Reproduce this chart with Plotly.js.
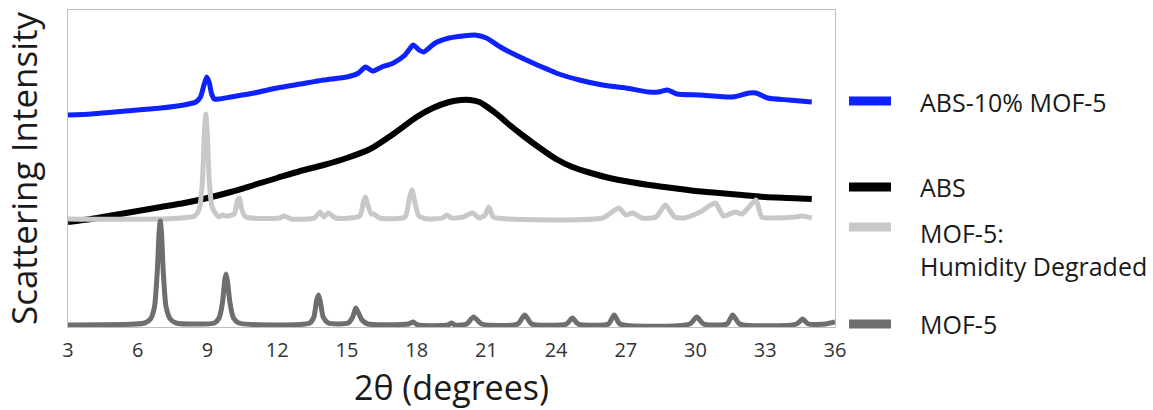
<!DOCTYPE html>
<html>
<head>
<meta charset="utf-8">
<script src="https://cdn.plot.ly/plotly-3.0.1.min.js"></script>
<style>html,body{margin:0;padding:0;background:#fff;}#chart{width:1153px;height:410px;}</style>
</head>
<body>
<div id="chart"></div>
<script>
// ---- Data (2θ in degrees, intensity in arbitrary offset units) ----
const seriesNames = ["ABS-10% MOF-5", "ABS", "MOF-5:<br>Humidity Degraded", "MOF-5"];

const absMofX = [3, 4, 5, 6, 7, 8, 8.5, 8.7, 8.85, 8.97, 9.07, 9.18, 9.3, 9.5, 10, 11, 12, 13, 14, 15, 15.5, 15.8, 16.1, 16.5, 17, 17.5, 17.85, 18.1, 18.3, 18.8, 19.4, 20, 20.5, 21, 21.6, 22, 23, 23.7, 24, 25, 26, 27, 28, 28.4, 28.8, 29.2, 30.2, 31.6, 32.3, 32.6, 33.1, 34, 35];
const absMofY = [212, 213, 215, 217, 219, 222, 225, 230, 242, 250, 245, 233, 228, 228, 230, 234, 239, 243, 247, 250, 254, 260, 256, 260, 264, 272, 282, 277, 275, 284, 289, 291, 292, 289, 280, 275, 264, 257, 254, 247, 242, 239, 235, 235, 237, 233, 232, 230, 234, 234, 229, 227, 225];

const absX = [3, 4, 5, 6, 7, 8, 9, 10, 11, 12, 13, 14, 15, 16, 17, 18, 18.7, 19.4, 19.9, 20.3, 20.7, 21.1, 21.5, 22, 22.6, 23.3, 24, 24.7, 25.5, 26.3, 27.2, 28, 29, 30, 31, 32, 33, 34, 35];
const absY = [105, 108, 112, 116, 120, 124, 129, 135, 142, 149, 156, 162, 169, 178, 193, 210, 219, 225, 227, 227, 225, 219, 212, 202, 191, 179, 168, 160, 154, 149, 145, 142, 139, 136, 134, 132, 130, 129, 128];

const degradedX = [3, 8.45, 8.65, 8.78, 8.87, 8.93, 8.99, 9.08, 9.2, 9.4, 9.5, 9.65, 9.8, 10.15, 10.3, 10.38, 10.48, 10.65, 12.1, 12.3, 12.6, 13.6, 13.85, 14.0, 14.2, 14.5, 15.55, 15.72, 15.8, 15.9, 16.05, 16.15, 16.4, 17.5, 17.68, 17.8, 17.92, 18.1, 18.5, 19.1, 19.3, 19.5, 20.0, 20.4, 20.7, 20.95, 21.1, 21.3, 22, 26, 26.7, 27.0, 27.3, 27.7, 28.3, 28.7, 29.1, 29.5, 30.2, 30.85, 31.2, 31.7, 32.0, 32.3, 32.6, 32.85, 33.3, 34.3, 34.6, 35];
const degradedY = [108, 111, 118, 145, 195, 213, 195, 145, 120, 112, 110, 112, 111, 113, 127, 129, 117, 110, 109, 111, 108, 109, 115, 110, 114, 109, 111, 126, 130, 122, 113, 113, 109, 110, 128, 137, 125, 111, 108, 109, 112, 109, 110, 114, 109, 112, 120, 110, 108, 109, 119, 112, 114, 109, 110, 122, 110, 109, 115, 124, 111, 115, 113, 120, 127, 110, 109, 110, 111, 109];

const mofX = [3, 6.3, 6.55, 6.72, 6.84, 6.92, 6.97, 7.02, 7.1, 7.22, 7.4, 7.65, 9.3, 9.5, 9.65, 9.75, 9.8, 9.86, 9.97, 10.12, 10.35, 13.4, 13.58, 13.7, 13.78, 13.86, 13.98, 14.2, 15.05, 15.25, 15.38, 15.5, 15.65, 15.9, 17.65, 17.85, 18.05, 19.35, 19.5, 19.65, 20.15, 20.45, 20.8, 22.35, 22.65, 22.95, 24.45, 24.7, 24.95, 26.25, 26.5, 26.75, 29.75, 30.05, 30.35, 31.35, 31.6, 31.9, 34.35, 34.6, 34.85, 35.6, 36];
const mofY = [2, 4, 8, 20, 55, 95, 106, 95, 55, 20, 8, 4, 4, 9, 25, 48, 53, 46, 24, 9, 4, 4, 10, 27, 32, 25, 10, 4, 4, 10, 19, 14, 7, 3, 3, 5, 2, 2, 4, 2, 3, 10, 3, 3, 12, 3, 3, 9, 3, 3, 12, 3, 3, 10, 3, 3, 12, 3, 3, 8, 3, 3, 5];

const xTickVals = [3, 6, 9, 12, 15, 18, 21, 24, 27, 30, 33, 36];
const colors = ["#0d22ff", "#000000", "#c8c8c8", "#6e6e6e"];

// ---- Layout helpers (pixel geometry of the 1153x410 canvas) ----
const W = 1153, H = 410;
const PL = 68, PR = 835, PT = 10, PB = 327;
const px2paperX = px => (px - PL) / (PR - PL);
const py2paperY = py => (PB - py) / (PB - PT);

const FONT = "Open Sans, Liberation Sans, sans-serif";

const traces = [
  {x: absMofX, y: absMofY, name: seriesNames[0], line: {color: colors[0], width: 5}},
  {x: absX, y: absY, name: seriesNames[1], line: {color: colors[1], width: 6}},
  {x: degradedX, y: degradedY, name: seriesNames[2], line: {color: colors[2], width: 5}},
  {x: mofX, y: mofY, name: seriesNames[3], line: {color: colors[3], width: 5}}
].map(t => {
  t.line.shape = "spline";
  t.line.smoothing = 0.6;
  return Object.assign({type: "scatter", mode: "lines", hoverinfo: "skip"}, t);
});

// legend: swatch rows (pixel y of swatch, pixel y of first text line)
const legendRows = [
  {swatchY: 101, textY: 101},
  {swatchY: 187, textY: 186},
  {swatchY: 227, textY: 232},
  {swatchY: 324, textY: 323}
];

const shapes = legendRows.map((r, i) => ({
  type: "line", xref: "paper", yref: "paper",
  x0: px2paperX(849), x1: px2paperX(891),
  y0: py2paperY(r.swatchY), y1: py2paperY(r.swatchY),
  line: {color: colors[i], width: 9}
}));

const annotations = legendRows.map((r, i) => ({
  xref: "paper", yref: "paper",
  x: px2paperX(918), y: py2paperY(r.textY - 18),
  xanchor: "left", yanchor: "top", align: "left",
  text: seriesNames[i], showarrow: false,
  font: {family: FONT, size: 25, color: "#1a1a1a"}
}));

const layout = {
  width: W, height: H,
  margin: {l: PL, r: W - PR, t: PT, b: H - PB, pad: 0},
  paper_bgcolor: "#ffffff", plot_bgcolor: "#ffffff",
  showlegend: false,
  xaxis: {
    range: [3, 36], tickvals: xTickVals, ticks: "", ticklabelstandoff: 5,
    showgrid: false, zeroline: false,
    showline: true, mirror: true, linecolor: "#bfbfbf", linewidth: 1,
    tickfont: {family: FONT, size: 20, color: "#333333"},
    title: {text: "2θ (degrees)", font: {family: FONT, size: 34, color: "#1a1a1a"}, standoff: 22},
    automargin: false, fixedrange: true
  },
  yaxis: {
    range: [0, 317], showticklabels: false, ticks: "",
    showgrid: false, zeroline: false,
    showline: true, mirror: true, linecolor: "#bfbfbf", linewidth: 1,
    title: {text: "Scattering Intensity", font: {family: FONT, size: 35, color: "#1a1a1a"}, standoff: 20},
    automargin: false, fixedrange: true
  },
  shapes: shapes,
  annotations: annotations
};

Plotly.newPlot("chart", traces, layout, {staticPlot: true, displayModeBar: false});
</script>
</body>
</html>
